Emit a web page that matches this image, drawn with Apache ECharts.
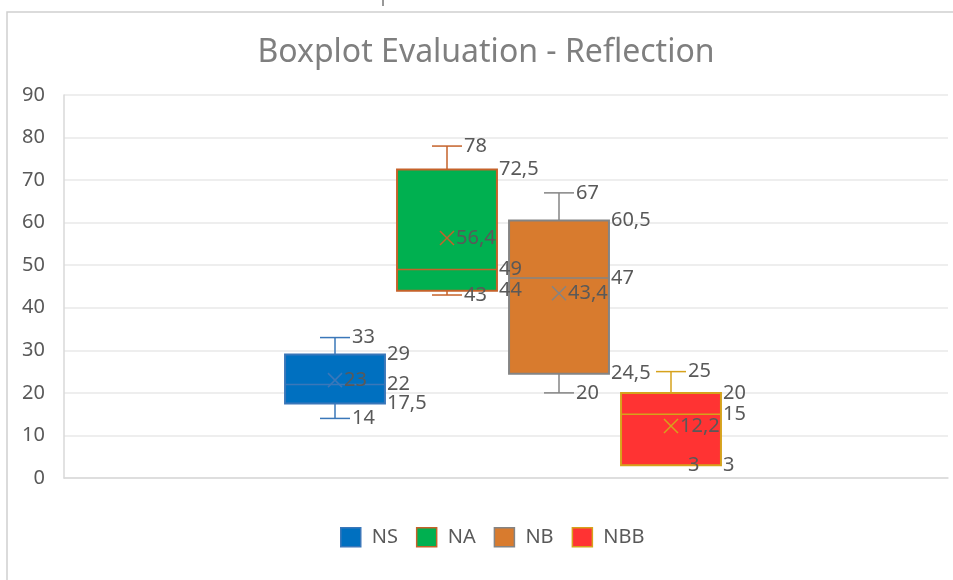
<!DOCTYPE html>
<html>
<head>
<meta charset="UTF-8">
<script src="https://cdn.jsdelivr.net/npm/echarts@6/dist/echarts.min.js"></script>
<style>
body { margin:0; padding:0; background:#fff; }
#chart { width:953px; height:580px; }
</style>
</head>
<body><div id="chart"></div>
<script>
// five-number summary + mean per group
const categories = ['NS', 'NA', 'NB', 'NBB'];
const minValues = [14, 43, 20, 3];
const q1Values = [17.5, 44, 24.5, 3];
const medianValues = [22, 49, 47, 15];
const q3Values = [29, 72.5, 60.5, 20];
const maxValues = [33, 78, 67, 25];
const meanValues = [23, 56.4, 43.4, 12.2];

const fillColors = ['#0070C0', '#00B050', '#D87B2E', '#FF3333'];
const lineColors = ['#3A77B9', '#C5622A', '#848484', '#D6A21C'];

const labelFont = '20px "Noto Sans", sans-serif';
const fmt = v => String(v).replace('.', ',');

function renderBox(params, api) {
  const i = api.value(0);
  const stroke = lineColors[i];
  const y = k => api.coord([i, api.value(k)])[1];
  const cx = api.coord([i, 0])[0];
  const yMin = y(1), yQ1 = y(2), yMed = y(3), yQ3 = y(4), yMax = y(5), yMean = y(6);
  const half = api.size([1, 0])[0] * 0.446;
  const cap = 15;
  const ls = { stroke: stroke, lineWidth: 1.5 };
  const line = (x1, y1, x2, y2) => ({ type: 'line', shape: { x1, y1, x2, y2 }, style: ls });
  // labels sit above every box, so they get a high z2
  const text = (t, x, yy) => ({
    type: 'text',
    z2: 100,
    style: { text: fmt(t), x: x, y: yy, fill: '#595959', font: labelFont, align: 'left', verticalAlign: 'middle' }
  });
  return {
    type: 'group',
    children: [
      line(cx, yMax, cx, yQ3),
      line(cx - cap, yMax, cx + cap, yMax),
      line(cx, yQ1, cx, yMin),
      line(cx - cap, yMin, cx + cap, yMin),
      {
        type: 'rect',
        shape: { x: cx - half, y: yQ3, width: half * 2, height: yQ1 - yQ3 },
        style: { fill: fillColors[i], stroke: stroke, lineWidth: 2 }
      },
      line(cx - half, yMed, cx + half, yMed),
      line(cx - 7, yMean - 7, cx + 7, yMean + 7),
      line(cx - 7, yMean + 7, cx + 7, yMean - 7),
      text(api.value(5), cx + cap + 2, yMax),
      text(api.value(4), cx + half + 2, yQ3),
      text(api.value(3), cx + half + 2, yMed),
      text(api.value(2), cx + half + 2, yQ1),
      text(api.value(1), cx + cap + 2, yMin),
      text(api.value(6), cx + 9, yMean)
    ]
  };
}

const chart = echarts.init(document.getElementById('chart'));
chart.setOption({
  animation: false,
  title: {
    text: 'Boxplot Evaluation - Reflection',
    left: 481,
    top: 32,
    textAlign: 'center',
    textStyle: { fontFamily: '"Noto Sans", sans-serif', fontSize: 32, fontWeight: 'normal', color: '#7F7F7F' }
  },
  graphic: [
    { type: 'rect', shape: { x: 7, y: 12, width: 980, height: 620 }, style: { fill: 'none', stroke: '#D0D0D0', lineWidth: 1.5 } },
    { type: 'line', shape: { x1: 383, y1: 0, x2: 383, y2: 6 }, style: { stroke: '#333', lineWidth: 1 } }
  ],
  legend: {
    left: 335,
    top: 522,
    itemWidth: 20,
    itemHeight: 19,
    itemGap: 18,
    textStyle: { color: '#595959', fontFamily: '"Noto Sans", sans-serif', fontSize: 20, padding: [0, 0, 0, 6] },
    data: categories.map((n, i) => ({
      name: n,
      icon: 'rect',
      itemStyle: { color: fillColors[i], borderColor: lineColors[i], borderWidth: 1.5 }
    }))
  },
  grid: [
    { left: 64, right: 5, top: 95, bottom: 102 },
    { left: 279, width: 448, top: 95, bottom: 102 }
  ],
  xAxis: [
    {
      type: 'category', gridIndex: 0, data: [''],
      axisLine: { lineStyle: { color: '#D9D9D9', width: 1.5 } },
      axisTick: { show: false }, axisLabel: { show: false }
    },
    { type: 'category', gridIndex: 1, data: categories, show: false }
  ],
  yAxis: [
    {
      type: 'value', gridIndex: 0, min: 0, max: 90, interval: 10,
      axisLine: { show: true, lineStyle: { color: '#D9D9D9', width: 1.5 } },
      axisTick: { show: false },
      splitLine: { lineStyle: { color: '#E8E8E8', width: 1.5 } },
      axisLabel: { color: '#595959', fontFamily: '"Noto Sans", sans-serif', fontSize: 20, margin: 19 }
    },
    { type: 'value', gridIndex: 1, min: 0, max: 90, show: false }
  ],
  series: categories.map((n, i) => ({
    name: n,
    type: 'custom',
    xAxisIndex: 1,
    yAxisIndex: 1,
    encode: { x: 0, y: [1, 2, 3, 4, 5, 6] },
    renderItem: renderBox,
    data: [[i, minValues[i], q1Values[i], medianValues[i], q3Values[i], maxValues[i], meanValues[i]]]
  }))
});
</script>
</body>
</html>
